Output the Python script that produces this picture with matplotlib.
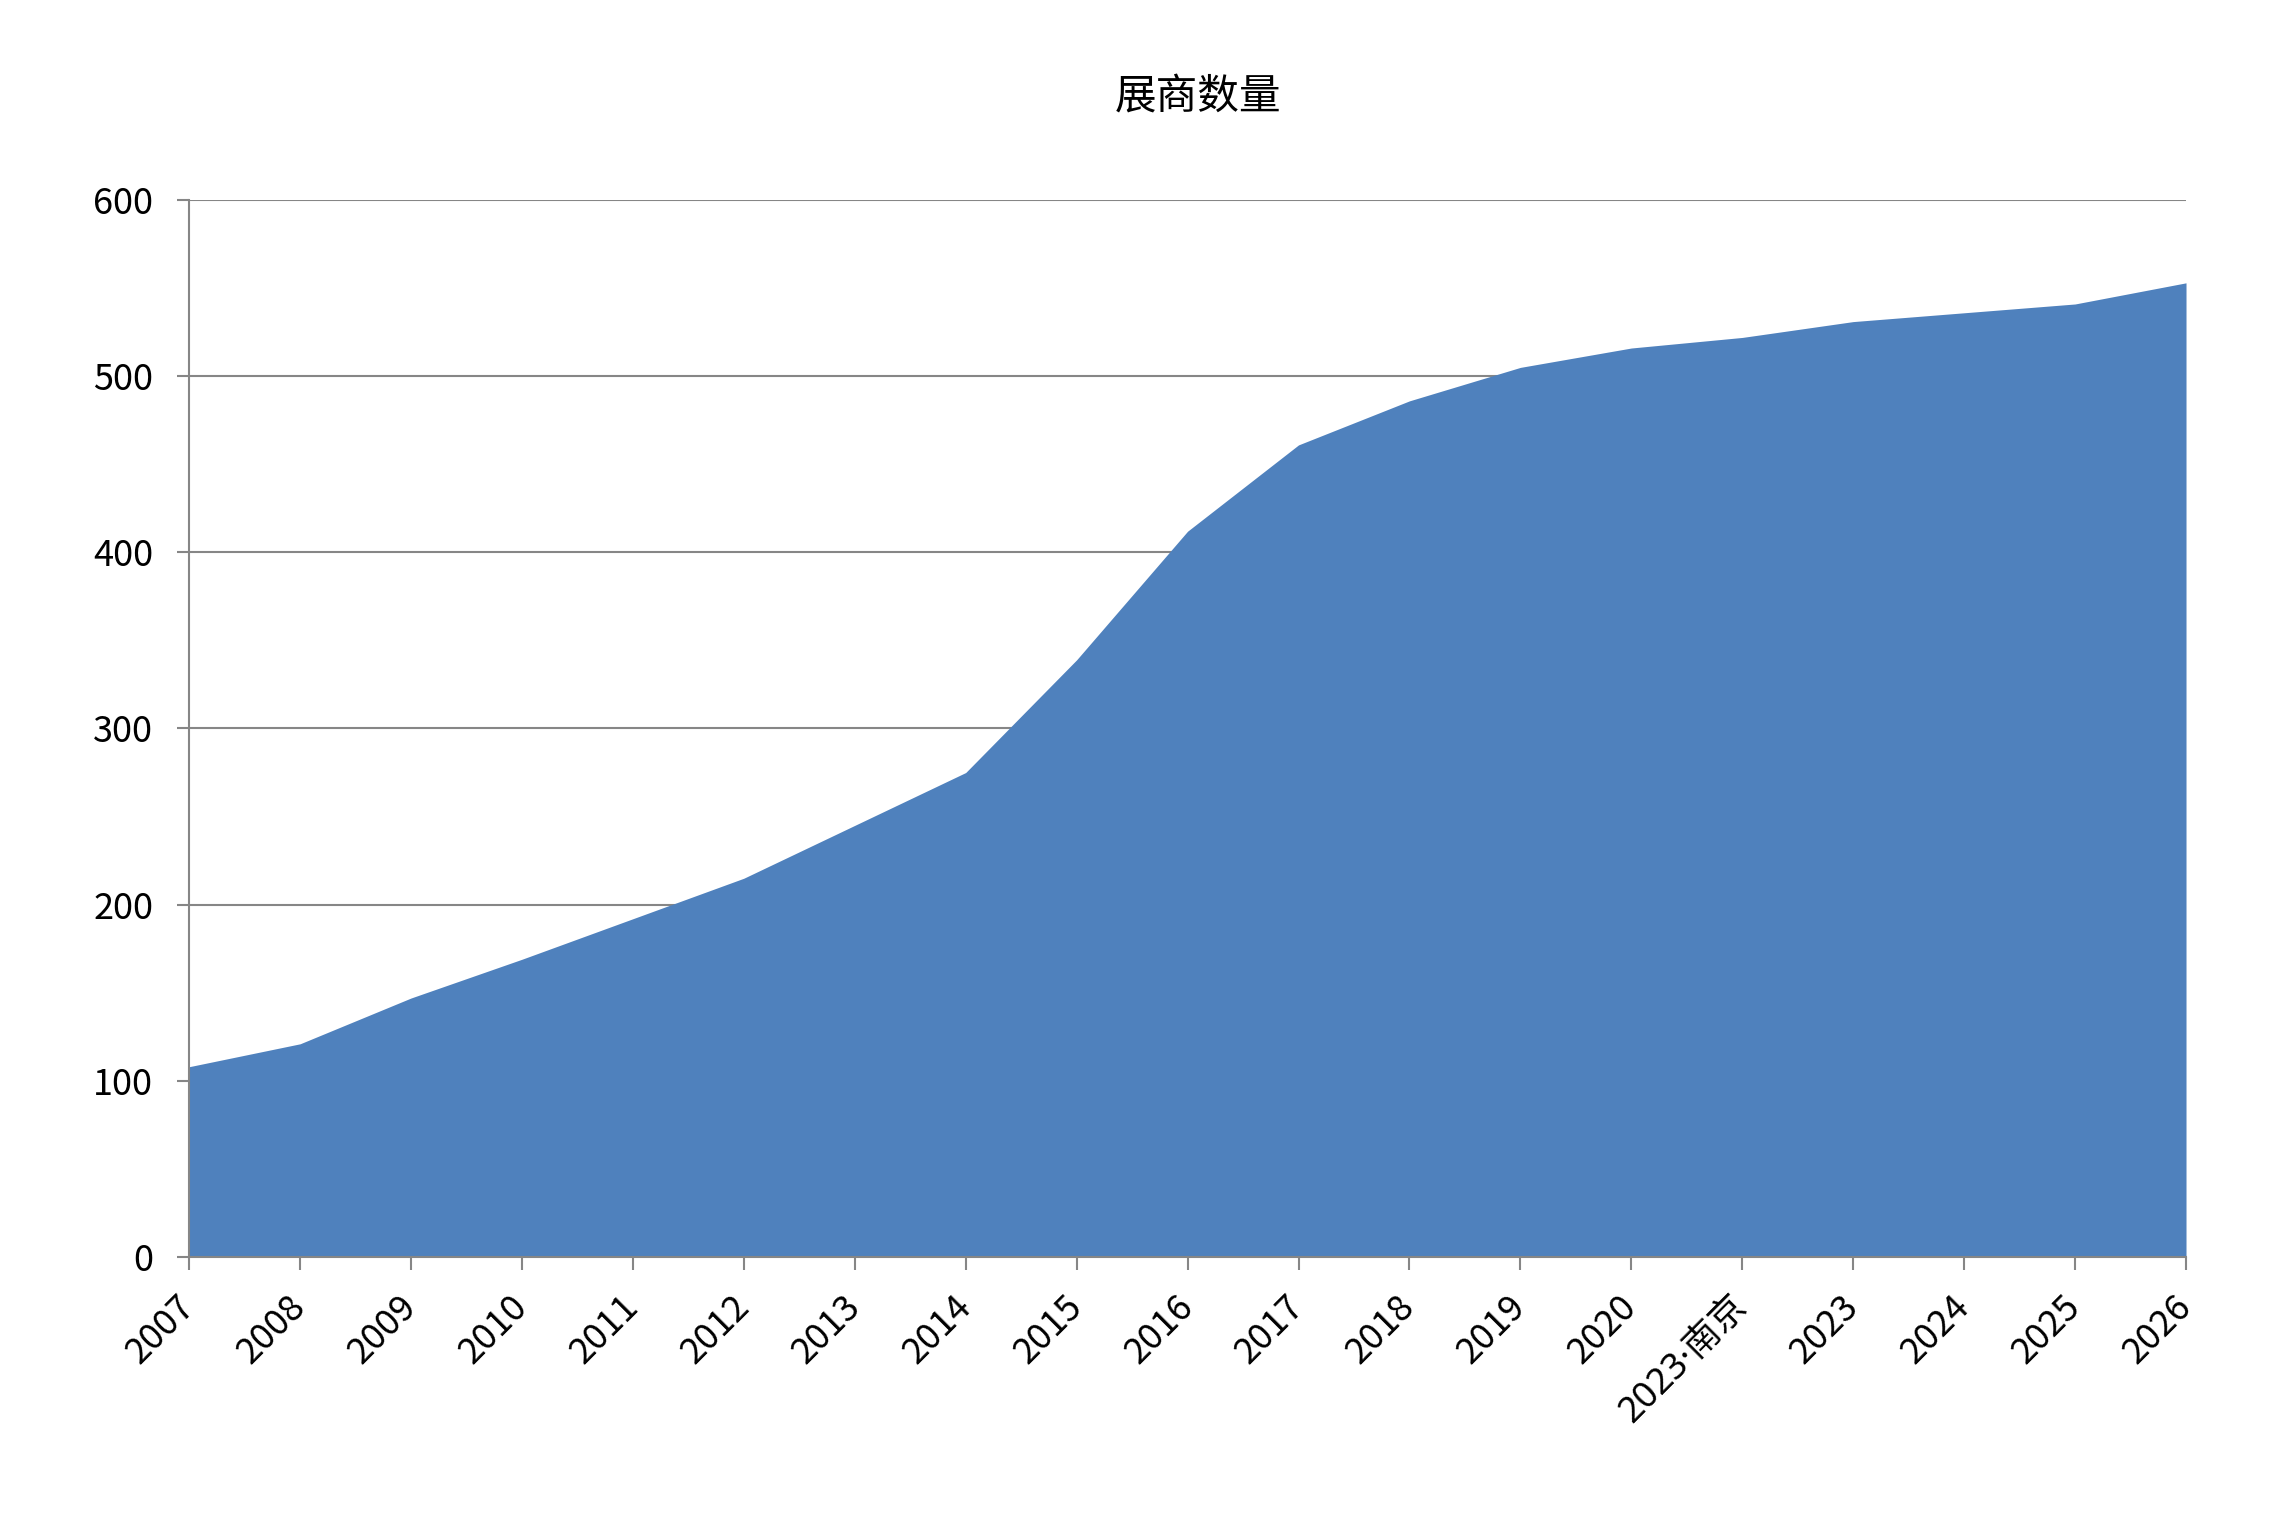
import matplotlib
matplotlib.use("Agg")
import matplotlib.pyplot as plt

plt.rcParams["font.family"] = ["Noto Sans CJK SC", "DejaVu Sans"]

# 展商数量 per edition
years = ["2007", "2008", "2009", "2010", "2011", "2012", "2013", "2014",
         "2015", "2016", "2017", "2018", "2019", "2020", "2023·南京",
         "2023", "2024", "2025", "2026"]
exhibitors = [108, 121, 147, 169, 192, 215, 245, 275, 339, 412,
              461, 486, 505, 516, 522, 531, 536, 541, 553]
y_ticks = [0, 100, 200, 300, 400, 500, 600]

grey = "#868686"
blue = "#4F81BD"

fig = plt.figure(figsize=(22.79, 15.40), dpi=100)
ax = fig.add_axes([0.0830, 0.1838, 0.8762, 0.6863])

x = list(range(len(years)))
ax.fill_between(x, 0, exhibitors, color=blue, linewidth=0, zorder=2)

ax.set_xlim(0, len(years) - 1)
ax.set_ylim(0, 600)
ax.set_yticks(y_ticks)
ax.set_xticks(x)
ax.set_xticklabels(years, rotation=45, ha="right", va="center",
                   rotation_mode="anchor")
# narrow middle dot like the original label
for lab in ax.get_xticklabels():
    if "·" in lab.get_text():
        lab.set_family(["Noto Sans", "Noto Sans CJK SC"])

ax.yaxis.grid(True, color=grey, linewidth=1.5, zorder=1)
ax.set_axisbelow(True)

for side in ("top", "right"):
    ax.spines[side].set_visible(False)
for side in ("left", "bottom"):
    ax.spines[side].set_color(grey)
    ax.spines[side].set_linewidth(1.5)
    ax.spines[side].set_zorder(3)

ax.tick_params(axis="both", colors=grey, width=1.5, length=9,
               labelcolor="black", labelsize=26)
ax.tick_params(axis="y", pad=17)
ax.tick_params(axis="x", pad=23)

fig.text(0.5257, 0.9370, "展商数量", ha="center", va="center", fontsize=30)

fig.savefig("out.png", dpi=100)
